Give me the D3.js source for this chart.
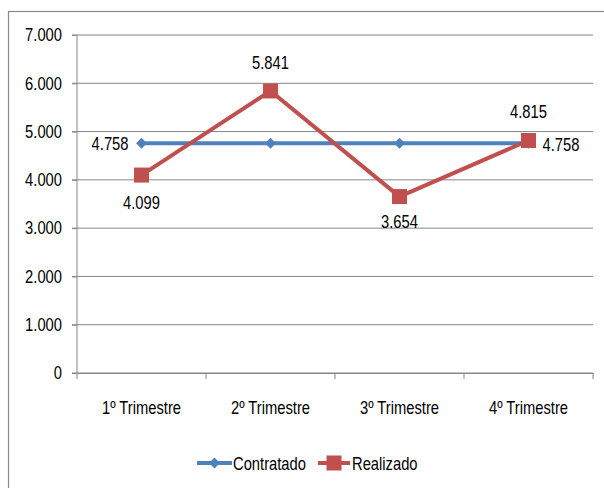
<!DOCTYPE html>
<html><head><meta charset="utf-8">
<script src="https://cdn.jsdelivr.net/npm/d3@7"></script>
<style>
body{margin:0;background:#fff;}
svg text{font-family:"Liberation Sans Narrow","Liberation Sans",Arial,sans-serif;font-size:18px;fill:#000;}
</style></head><body>
<svg id="c" width="604" height="488"></svg>
<script>
const categories = ["1º Trimestre","2º Trimestre","3º Trimestre","4º Trimestre"];
const contratado = [4758,4758,4758,4758];
const realizado = [4099,5841,3654,4815];
const yTicks = [0,1000,2000,3000,4000,5000,6000,7000];
const seriesNames = ["Contratado","Realizado"];

const svg = d3.select("#c");
svg.append("rect").attr("x",8.5).attr("y",11.5).attr("width",620).attr("height",500)
  .attr("fill","none").attr("stroke","#888").attr("stroke-width",1.2);

const L=77,R=593,T=35,B=373;
const x = d3.scaleBand().domain(categories).range([L,R]);
const y = d3.scaleLinear().domain([0,7000]).range([B,T]);
const fmt = v => v===0 ? "0" : d3.format(",")(v).replace(/,/g,".");

// gridlines
svg.append("g").selectAll("line").data(yTicks).join("line")
  .attr("x1",L-5).attr("x2",R).attr("y1",d=>y(d)).attr("y2",d=>y(d))
  .attr("stroke","#868686").attr("stroke-width",1);
// y axis
const yAxis = d3.axisLeft(y).tickValues(yTicks).tickSize(5).tickPadding(10).tickFormat(fmt);
const gy = svg.append("g").attr("transform",`translate(${L},0)`).call(yAxis);
gy.select(".domain").remove();
gy.selectAll("line").attr("stroke","#868686");
gy.selectAll("text").style("font-size","18px").attr("fill","#000");
svg.append("line").attr("x1",L).attr("x2",L).attr("y1",T).attr("y2",B).attr("stroke","#868686");

// x axis
const xAxis = d3.axisBottom(x).tickSize(0).tickPadding(28);
const gx = svg.append("g").attr("transform",`translate(0,${B})`).call(xAxis);
gx.select(".domain").attr("stroke","#868686");
gx.selectAll("text").style("font-size","18px").attr("fill","#000");
const bounds = categories.map(c=>x(c)).concat([R]);
svg.append("g").selectAll("line").data(bounds).join("line")
  .attr("x1",d=>d).attr("x2",d=>d).attr("y1",B).attr("y2",B+6).attr("stroke","#868686");

const cx = c => x(c)+x.bandwidth()/2;
const line = d3.line().x((d,i)=>cx(categories[i])).y(d=>y(d));
const blue="#4F81BD", red="#C0504D";

svg.append("path").datum(contratado).attr("d",line).attr("fill","none").attr("stroke",blue).attr("stroke-width",4);
svg.append("g").selectAll("path").data(contratado).join("path")
  .attr("d",d3.symbol(d3.symbolDiamond2,75)).attr("fill",blue)
  .attr("transform",(d,i)=>`translate(${cx(categories[i])},${y(d)})`);

svg.append("path").datum(realizado).attr("d",line).attr("fill","none").attr("stroke",red).attr("stroke-width",4);
svg.append("g").selectAll("rect").data(realizado).join("rect")
  .attr("x",(d,i)=>cx(categories[i])-7.5).attr("y",d=>y(d)-7.5).attr("width",15).attr("height",15).attr("fill",red);

// data labels
const lab = (tx,ty,t,anchor)=>svg.append("text").attr("x",tx).attr("y",ty).attr("text-anchor",anchor).attr("dominant-baseline","central").text(t);
lab(cx(categories[0])-13,y(contratado[0]),fmt(contratado[0]),"end");
lab(cx(categories[3])+14,y(contratado[3])+1,fmt(contratado[3]),"start");
const off=[27,-29,25,-29];
realizado.forEach((v,i)=>lab(cx(categories[i]),y(v)+off[i],fmt(v),"middle"));

// legend
const ly=463;
const lg = svg.append("g");
lg.append("line").attr("x1",197).attr("x2",232).attr("y1",ly).attr("y2",ly).attr("stroke",blue).attr("stroke-width",4);
lg.append("path").attr("d",d3.symbol(d3.symbolDiamond2,75)).attr("fill",blue).attr("transform",`translate(214.5,${ly})`);
lg.append("text").attr("x",233).attr("y",ly).attr("dominant-baseline","central").text(seriesNames[0]);
lg.append("line").attr("x1",318).attr("x2",350).attr("y1",ly).attr("y2",ly).attr("stroke",red).attr("stroke-width",4);
lg.append("rect").attr("x",326.5).attr("y",ly-7.5).attr("width",15).attr("height",15).attr("fill",red);
lg.append("text").attr("x",352).attr("y",ly).attr("dominant-baseline","central").text(seriesNames[1]);

// condense text horizontally (narrow font look)
const s = 0.82;
svg.selectAll("text").each(function(){
  const t = d3.select(this);
  const xv = +t.attr("x") || 0;
  t.attr("x", xv/s).attr("transform", `scale(${s},1)`);
});
</script></body></html>
